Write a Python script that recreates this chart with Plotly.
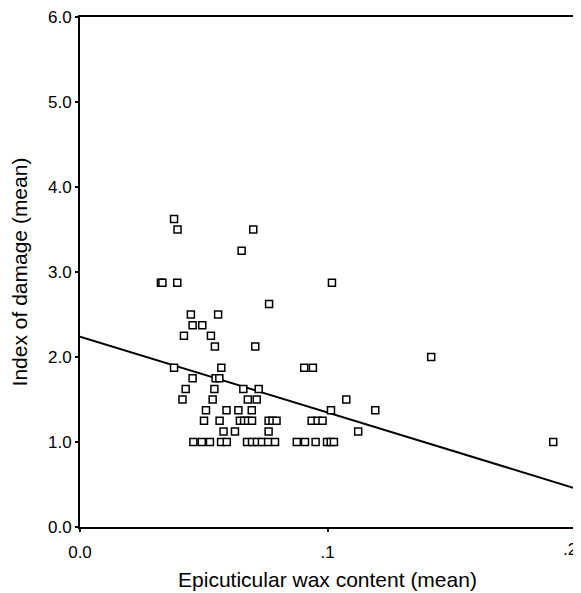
import plotly.graph_objects as go

# Scatter data: epicuticular wax content (mean) vs index of damage (mean)
wax = [
    0.0380, 0.0394, 0.0700,
    0.0653,
    0.0327, 0.0333, 0.0393, 0.1018,
    0.0764,
    0.0448, 0.0558,
    0.0455, 0.0494,
    0.0420, 0.0529,
    0.0545, 0.0708,
    0.1419,
    0.0380, 0.0571, 0.0906, 0.0941,
    0.0455, 0.0548, 0.0563,
    0.0427, 0.0543, 0.0660, 0.0722,
    0.0414, 0.0536, 0.0678, 0.0714, 0.1076,
    0.0509, 0.0592, 0.0640, 0.0694, 0.1014, 0.1193,
    0.0501, 0.0564, 0.0646, 0.0663, 0.0679, 0.0695, 0.0762, 0.0778, 0.0794, 0.0936, 0.0960, 0.0980,
    0.0580, 0.0626, 0.0762, 0.1124,
    0.0458, 0.0492, 0.0525, 0.0570, 0.0593, 0.0675, 0.0695, 0.0715, 0.0735, 0.0760, 0.0788,
    0.0876, 0.0909, 0.0952, 0.0998, 0.1013, 0.1026, 0.1912,
]
damage = [
    3.625, 3.5, 3.5,
    3.25,
    2.875, 2.875, 2.875, 2.875,
    2.625,
    2.5, 2.5,
    2.375, 2.375,
    2.25, 2.25,
    2.125, 2.125,
    2.0,
    1.875, 1.875, 1.875, 1.875,
    1.75, 1.75, 1.75,
    1.625, 1.625, 1.625, 1.625,
    1.5, 1.5, 1.5, 1.5, 1.5,
    1.375, 1.375, 1.375, 1.375, 1.375, 1.375,
    1.25, 1.25, 1.25, 1.25, 1.25, 1.25, 1.25, 1.25, 1.25, 1.25, 1.25, 1.25,
    1.125, 1.125, 1.125, 1.125,
    1.0, 1.0, 1.0, 1.0, 1.0, 1.0, 1.0, 1.0, 1.0, 1.0, 1.0,
    1.0, 1.0, 1.0, 1.0, 1.0, 1.0, 1.0,
]

# Fitted regression line endpoints
fit_x = [0.0, 0.2]
fit_y = [2.24, 0.455]

x_tickvals = [0.0, 0.1, 0.2]
x_ticktext = ["0.0", ".1", ".2"]
y_tickvals = [0, 1, 2, 3, 4, 5, 6]
y_ticktext = ["0.0", "1.0", "2.0", "3.0", "4.0", "5.0", "6.0"]

fig = go.Figure()
fig.add_trace(go.Scatter(
    x=fit_x, y=fit_y, mode="lines",
    line=dict(color="black", width=2),
    showlegend=False, hoverinfo="skip",
))
fig.add_trace(go.Scatter(
    x=wax, y=damage, mode="markers",
    marker=dict(symbol="square", size=7, color="white",
                line=dict(color="black", width=1.5)),
    showlegend=False,
))

# the last x tick label sits at the right edge, so it is drawn right-aligned
fig.add_annotation(
    x=x_tickvals[-1], y=0, xref="x", yref="y",
    text=x_ticktext[-1], showarrow=False,
    xanchor="right", yanchor="top", xshift=4, yshift=-11,
    font=dict(size=17),
)

font_family = "Liberation Sans, Arial, sans-serif"
# page body has an 8px margin, so the figure is sized/offset to compensate
fig.update_layout(
    width=573, height=585,
    margin=dict(l=72, r=6, t=9, b=66),
    paper_bgcolor="white", plot_bgcolor="white",
    font=dict(family=font_family, color="black", size=17),
    xaxis=dict(
        range=[0, 0.2], tickvals=x_tickvals,
        ticktext=x_ticktext[:-1] + [""],
        showgrid=False, zeroline=False, automargin=False,
        showline=True, linecolor="black", linewidth=2, mirror=True,
        ticks="outside", ticklen=3, tickwidth=2, tickcolor="black",
        ticklabelstandoff=6, ticklabeloverflow="allow",
        tickfont=dict(size=17),
        title=dict(text="Epicuticular wax content (mean)", font=dict(size=21), standoff=11),
    ),
    yaxis=dict(
        range=[0, 6], tickvals=y_tickvals, ticktext=y_ticktext,
        showgrid=False, zeroline=False, automargin=False,
        showline=True, linecolor="black", linewidth=2, mirror=True,
        ticks="outside", ticklen=3, tickwidth=2, tickcolor="black",
        ticklabelstandoff=0, ticklabeloverflow="allow",
        tickfont=dict(size=17),
        title=dict(text="Index of damage (mean)", font=dict(size=21), standoff=16),
    ),
)

fig.write_html("out.html")
